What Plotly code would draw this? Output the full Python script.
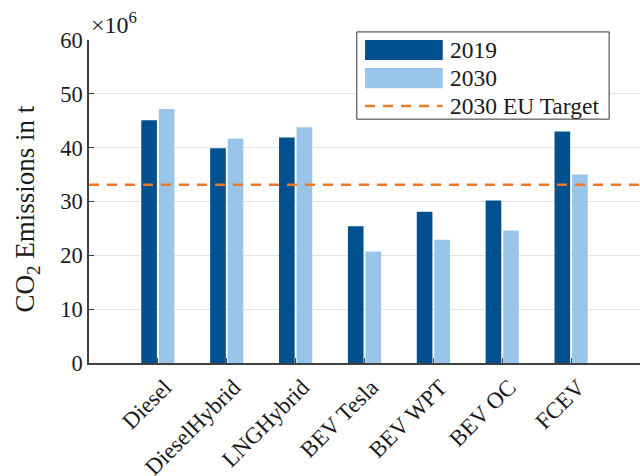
import plotly.graph_objects as go

categories = ["Diesel", "DieselHybrid", "LNGHybrid", "BEV Tesla", "BEV WPT", "BEV OC", "FCEV"]
emissions_2019 = [45.1, 39.9, 41.9, 25.4, 28.1, 30.2, 43.0]
emissions_2030 = [47.2, 41.7, 43.8, 20.7, 22.9, 24.6, 35.0]
eu_target_2030 = 33.1
series_names = ["2019", "2030", "2030 EU Target"]
y_ticks = [0, 10, 20, 30, 40, 50, 60]
y_title = "CO<sub>2</sub> Emissions in t"

DARK = "#00508F"
LIGHT = "#99C5EA"
ORANGE = "#EC7A2A"
FONT = "Liberation Serif"
TXT = "#1a1a1a"

x = list(range(1, len(categories) + 1))

fig = go.Figure()
fig.add_trace(go.Bar(x=x, y=emissions_2019, name=series_names[0], marker_color=DARK,
                     marker_line_width=0, showlegend=False))
fig.add_trace(go.Bar(x=x, y=emissions_2030, name=series_names[1], marker_color=LIGHT,
                     marker_line_width=0, showlegend=False))
fig.add_trace(go.Scatter(x=[0, len(categories) + 1], y=[eu_target_2030] * 2, mode="lines",
                         line=dict(color=ORANGE, width=2.5, dash="10px,8px"),
                         name=series_names[2], showlegend=False))

# Legend box (drawn manually to mimic the wide swatches)
lx0, lx1, ly0, ly1 = 0.486, 0.944, 1.025, 0.755
fig.add_shape(type="rect", xref="paper", yref="paper", x0=lx0, x1=lx1, y0=ly1, y1=ly0,
              line=dict(color="#333333", width=1), fillcolor="white", layer="above")
rows = [0.969, 0.882, 0.796]
sw0, sw1 = 0.501, 0.642
half = 0.031
fig.add_shape(type="rect", xref="paper", yref="paper", x0=sw0, x1=sw1,
              y0=rows[0] - half, y1=rows[0] + half, fillcolor=DARK, line_width=0, layer="above")
fig.add_shape(type="rect", xref="paper", yref="paper", x0=sw0, x1=sw1,
              y0=rows[1] - half, y1=rows[1] + half, fillcolor=LIGHT, line_width=0, layer="above")
fig.add_shape(type="line", xref="paper", yref="paper", x0=sw0, x1=sw1,
              y0=rows[2], y1=rows[2], line=dict(color=ORANGE, width=2.5, dash="10px,8px"),
              layer="above")
for r, name in zip(rows, series_names):
    fig.add_annotation(xref="paper", yref="paper", x=0.652, y=r, text=name, showarrow=False,
                       xanchor="left", yanchor="middle",
                       font=dict(family=FONT, size=23.5, color=TXT))

fig.add_annotation(xref="paper", yref="paper", x=0.0, y=1.0, yshift=0, text="×10<sup>6</sup>",
                   showarrow=False, xanchor="left", yanchor="bottom",
                   font=dict(family=FONT, size=24, color=TXT))

# Y-axis title
fig.add_annotation(xref="paper", yref="paper", x=0, xshift=-62, y=0.475, text=y_title,
                   textangle=-90, showarrow=False, xanchor="center", yanchor="middle",
                   font=dict(family=FONT, size=27, color=TXT))

fig.update_layout(
    width=640, height=476,
    margin=dict(l=89, r=0, t=40, b=113),
    plot_bgcolor="white", paper_bgcolor="white",
    barmode="group", bargap=0.49, bargroupgap=0.11,
    font=dict(family=FONT, size=22, color=TXT),
    xaxis=dict(range=[0, len(categories) + 1], tickmode="array", tickvals=x,
               ticktext=categories, tickangle=-45, showgrid=False, automargin=False,
               showline=True, linecolor="#404040", linewidth=1.5,
               ticks="inside", ticklen=5, tickcolor="#404040", ticklabelshift=7,
               tickfont=dict(family=FONT, size=23, color=TXT), zeroline=False),
    yaxis=dict(range=[0, 60], tickvals=y_ticks, showgrid=True, gridcolor="#E3E3E3",
               gridwidth=1, showline=True, linecolor="#404040", linewidth=1.5,
               ticks="inside", ticklen=5, tickcolor="#404040", zeroline=False,
               automargin=False,
               tickfont=dict(family=FONT, size=22.5, color=TXT)),
)

fig.write_html("out.html")
